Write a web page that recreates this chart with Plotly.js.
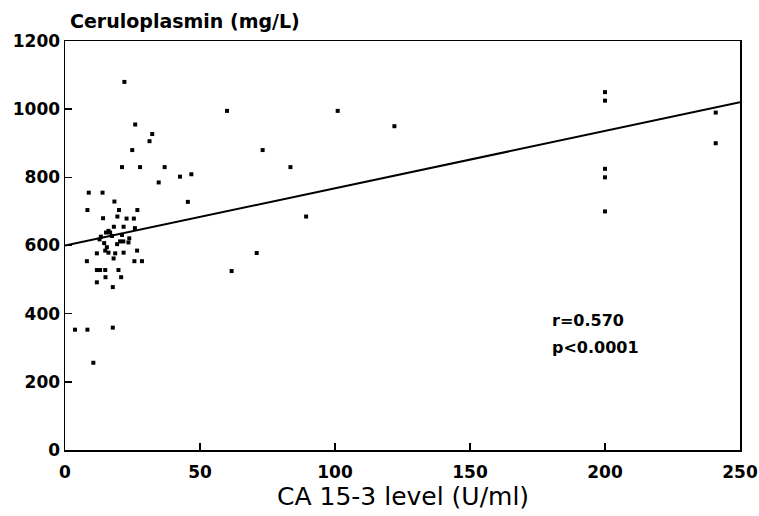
<!DOCTYPE html>
<html><head><meta charset="utf-8">
<script src="https://cdn.plot.ly/plotly-3.0.1.min.js"></script>
<style>html,body{margin:0;padding:0;background:#fff;}#chart{width:759px;height:516px;}</style>
</head><body><div id="chart"></div>
<script>
const ca153 = [22,60,26,32.3,31.3,24.9,73.2,21.1,27.8,36.9,83.5,34.7,42.6,46.8,8.8,13.9,
  101,122,45.5,89.3,61.7,71,200,200,200,200,200,241,241,
  18.3,8.3,20,26.8,14.1,19.4,22.8,25.5,18.1,21.7,25.9,16.1,16.7,15.2,17.4,13.3,12.8,21.1,20.4,23.8,23.5,14.5,15.5,19.3,21.6,
  14.9,16.1,26.7,11.8,18.6,21.7,18,8.1,25.7,28.5,11.8,13,14.9,19.8,15,20.8,11.8,17.7,3.7,8.3,17.7,10.5];
const cerulo = [1080,995,955,927,906,880,880,830,830,830,830,785,802,809,755,755,
  995,950,728,685,525,578,1050,1025,825,800,700,990,900,
  729,704,704,704,680,685,679,679,655,655,651,643,638,638,628,626,618,631,612,621,609,607,595,604,612,
  585,579,585,577,577,579,562,554,554,554,528,528,528,528,507,507,492,478,353,353,359,256];
const fitX = [0,250];
const fitY = [600,1020];
const xTicks = [0,50,100,150,200,250];
const yTicks = [0,200,400,600,800,1000,1200];
const statLines = ["r=0.570","p<0.0001"];
const statY = [381,302];

const fam = "DejaVu Sans, Liberation Sans, sans-serif";
const f = (size, bold) => ({family:fam, size:size, color:"#000", weight: bold ? "bold" : "normal"});
const data = [
  {x:ca153, y:cerulo, type:"scatter", mode:"markers",
   marker:{symbol:"square", size:4, color:"#000"}, showlegend:false},
  {x:fitX, y:fitY, type:"scatter", mode:"lines",
   line:{color:"#000", width:2}, showlegend:false}
];
const annotations = statLines.map((t,i)=>({x:179.5, y:statY[i], xref:"x", yref:"y", xanchor:"left", text:t,
  showarrow:false, font:f(16,true)}));
annotations.push({x:0.004, y:1.017, xref:"paper", yref:"paper", xanchor:"left", yanchor:"bottom",
  text:"Ceruloplasmin (mg/L)", showarrow:false, font:f(19,true)});
annotations.push({x:0.5, y:-0.1125, xref:"paper", yref:"paper", xanchor:"center", yanchor:"middle",
  text:"CA 15-3 level (U/ml)", showarrow:false, font:f(25,false)});
const layout = {
  width:759, height:516,
  margin:{l:65, r:19, t:41, b:66},
  paper_bgcolor:"#fff", plot_bgcolor:"#fff",
  font:f(16,false),
  xaxis:{range:[0,250], tickvals:xTicks, ticks:"inside", ticklen:7, tickwidth:1.5, tickcolor:"#000",
    showline:true, mirror:true, linecolor:"#000", linewidth:1.5, showgrid:false, zeroline:false,
    ticklabelstandoff:6, tickfont:f(17,true)},
  yaxis:{range:[0,1200], tickvals:yTicks, ticks:"inside", ticklen:7, tickwidth:1.5, tickcolor:"#000",
    showline:true, mirror:true, linecolor:"#000", linewidth:1.5, showgrid:false, zeroline:false,
    tickfont:f(17,true)},
  annotations:annotations
};
Plotly.newPlot("chart", data, layout, {displayModeBar:false, staticPlot:true});
</script></body></html>
